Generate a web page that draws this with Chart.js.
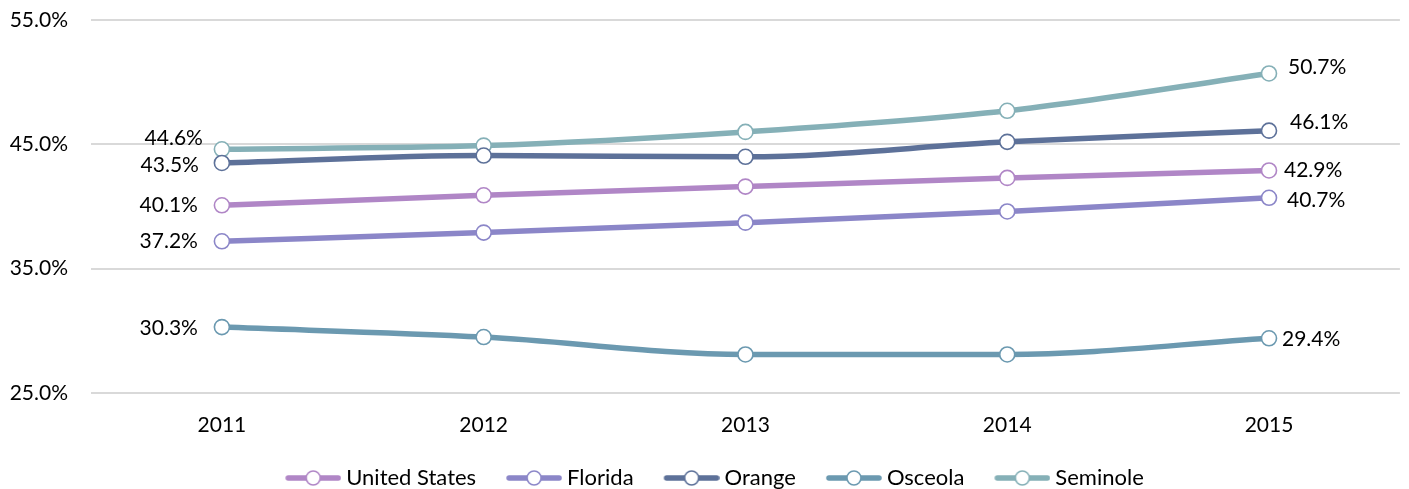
<!DOCTYPE html>
<html>
<head>
<meta charset="utf-8">
<script src="https://cdn.jsdelivr.net/npm/chart.js@4/dist/chart.umd.min.js"></script>
<style>
  html, body { margin: 0; padding: 0; background: #ffffff; }
  #wrap { width: 1409px; height: 489px; position: relative; }
</style>
</head>
<body>
<div id="wrap"><canvas id="c" width="1409" height="489"></canvas></div>
<script>
const years = ['2011', '2012', '2013', '2014', '2015'];
const seriesNames = ['United States', 'Florida', 'Orange', 'Osceola', 'Seminole'];
const unitedStates = [40.1, 40.9, 41.6, 42.3, 42.9];
const florida = [37.2, 37.9, 38.7, 39.6, 40.7];
const orange = [43.5, 44.1, 44.0, 45.2, 46.1];
const osceola = [30.3, 29.5, 28.1, 28.1, 29.4];
const seminole = [44.6, 44.9, 46.0, 47.7, 50.7];
const yTicks = [25, 35, 45, 55];

const seriesValues = [unitedStates, florida, orange, osceola, seminole];
const colors = ['#b086c6', '#8b86c8', '#5d7199', '#6b99b0', '#85b0b7'];
// label offsets [dx, dy] for first and last point labels (styling only)
const firstOffsets = [[-24, 0], [-24, 0], [-23, 2], [-24, 1], [-19, -11]];
const lastOffsets = [[15, 0], [18, 2], [21, -8], [13, 1], [19, -6]];

const FONT = 'Lato, "Open Sans", sans-serif';

function legendIcon(color) {
  const c = document.createElement('canvas');
  c.width = 62; c.height = 20;
  const x = c.getContext('2d');
  x.strokeStyle = color; x.lineWidth = 5.5; x.lineCap = 'round';
  x.beginPath(); x.moveTo(9, 10); x.lineTo(59, 10); x.stroke();
  x.beginPath(); x.arc(34, 10, 7, 0, Math.PI * 2);
  x.fillStyle = '#fff'; x.fill();
  x.lineWidth = 1.6; x.stroke();
  return c;
}

const labelPlugin = {
  id: 'endLabels',
  afterLayout(chart) {
    if (chart.legend) { chart.legend.left += 10; chart.legend.right += 10; }
  },
  afterDatasetsDraw(chart) {
    const ctx = chart.ctx;
    ctx.save();
    ctx.font = '21px ' + FONT;
    ctx.fillStyle = '#000';
    ctx.textBaseline = 'middle';
    chart.data.datasets.forEach((ds, i) => {
      const meta = chart.getDatasetMeta(i);
      const n = meta.data.length;
      const p0 = meta.data[0], p1 = meta.data[n - 1];
      ctx.textAlign = 'right';
      ctx.fillText(ds.data[0].toFixed(1) + '%', p0.x + firstOffsets[i][0], p0.y + firstOffsets[i][1]);
      ctx.textAlign = 'left';
      ctx.fillText(ds.data[n - 1].toFixed(1) + '%', p1.x + lastOffsets[i][0], p1.y + lastOffsets[i][1]);
    });
    ctx.restore();
  }
};

const datasets = seriesNames.map((name, i) => ({
  label: name,
  data: seriesValues[i],
  borderColor: colors[i],
  backgroundColor: '#ffffff',
  borderWidth: 5.5,
  cubicInterpolationMode: 'monotone',
  pointRadius: 7.5,
  pointHoverRadius: 7.5,
  pointBackgroundColor: '#ffffff',
  pointBorderColor: colors[i],
  pointBorderWidth: 1.6,
  pointStyle: 'circle',
  fill: false
}));

new Chart(document.getElementById('c'), {
  type: 'line',
  data: { labels: years, datasets },
  plugins: [labelPlugin],
  options: {
    responsive: false,
    animation: false,
    events: [],
    layout: { padding: { top: 20, right: 0, left: 0, bottom: -10 } },
    scales: {
      x: {
        offset: true,
        afterFit(axis) { axis.height = 44; axis.paddingLeft = 0; axis.paddingRight = 0; },
        grid: { display: false, drawTicks: false },
        border: { display: false },
        ticks: { color: '#000', font: { family: FONT, size: 21 }, padding: 20 }
      },
      y: {
        min: 25, max: 55,
        afterBuildTicks(axis) { axis.ticks = yTicks.map(v => ({ value: v })); },
        afterFit(axis) { axis.width = 91; axis.paddingTop = 0; axis.paddingBottom = 0; },
        grid: { color: '#d9d9d9', lineWidth: 2, drawTicks: false },
        border: { display: false },
        ticks: {
          color: '#000', font: { family: FONT, size: 21 }, padding: 23,
          callback: v => v.toFixed(1) + '%'
        }
      }
    },
    plugins: {
      tooltip: { enabled: false },
      legend: {
        position: 'bottom',
        labels: {
          usePointStyle: true,
          pointStyleWidth: 50,
          color: '#000',
          font: { family: FONT, size: 22 },
          padding: 30,
          generateLabels(chart) {
            return chart.data.datasets.map((ds, i) => ({
              text: ds.label,
              pointStyle: legendIcon(colors[i]),
              fillStyle: '#fff',
              strokeStyle: colors[i],
              lineWidth: 0,
              fontColor: '#000',
              datasetIndex: i,
              hidden: false
            }));
          }
        }
      }
    }
  }
});
</script>
</body>
</html>
